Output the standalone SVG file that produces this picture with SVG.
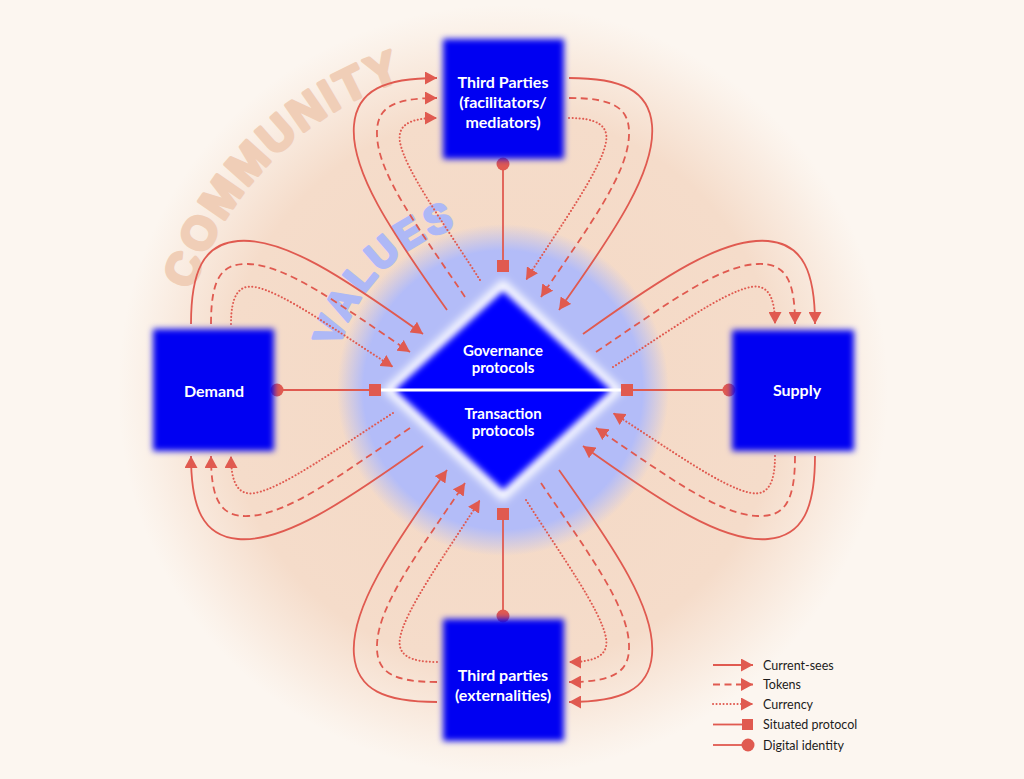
<svg xmlns="http://www.w3.org/2000/svg" width="1024" height="779" viewBox="0 0 1024 779">
<defs>
<style>
.c{fill:none;stroke:#E05A50;stroke-width:1.8}
.d{stroke-dasharray:7 4.5}
.o{stroke-dasharray:0.1 3.4;stroke-linecap:round;stroke-width:2}
.a{marker-end:url(#ah)}
.red{fill:#E05A50}
.box{fill:#0000F2;filter:url(#soft)}
.lbl{font-family:Lato,"Liberation Sans",sans-serif;font-weight:700;font-size:16px;fill:#ffffff;text-anchor:middle}
.dlbl{font-family:Lato,"Liberation Sans",sans-serif;font-weight:700;font-size:15px;fill:#ffffff;text-anchor:middle}
.leg{font-family:Lato,"Liberation Sans",sans-serif;font-size:12.5px;fill:#1c1c1c}
.arc{font-family:"Liberation Sans",Arial,sans-serif;font-weight:700;stroke-linejoin:round}
</style>
<radialGradient id="peach" gradientUnits="userSpaceOnUse" cx="503" cy="390" r="385">
<stop offset="0" stop-color="#F4D8C4"/>
<stop offset="0.72" stop-color="#F5DCCA"/>
<stop offset="0.95" stop-color="#FBF2EA"/>
<stop offset="1" stop-color="#FCF6F0"/>
</radialGradient>
<radialGradient id="halo" gradientUnits="userSpaceOnUse" cx="503" cy="390" r="166">
<stop offset="0" stop-color="#B3BCF8"/>
<stop offset="0.84" stop-color="#B3BCF8"/>
<stop offset="1" stop-color="#B3BCF8" stop-opacity="0"/>
</radialGradient>
<filter id="soft" x="-20%" y="-20%" width="140%" height="140%"><feGaussianBlur stdDeviation="3"/></filter>
<filter id="glow" x="-20%" y="-20%" width="140%" height="140%"><feGaussianBlur stdDeviation="4"/></filter>
<marker id="ah" viewBox="0 0 12 13" refX="12" refY="6.5" markerWidth="12" markerHeight="13" markerUnits="userSpaceOnUse" orient="auto"><path d="M0,0 L12,6.5 L0,13 z" fill="#E05A50"/></marker>
<path id="arcC" d="M 182 333 A 326 326 0 0 1 503 64"/>
<path id="arcV" d="M 334.6 375.3 A 169 169 0 0 1 517.7 221.6"/>
</defs>

<rect width="1024" height="779" fill="#FCF6F0"/>
<circle cx="503" cy="390" r="385" fill="url(#peach)"/>
<text class="arc" font-size="46" letter-spacing="3" fill="#F0CEB7" stroke="#F0CEB7" stroke-width="3.5"><textPath href="#arcC" startOffset="44">COMMUNITY</textPath></text>
<circle cx="503" cy="390" r="166" fill="url(#halo)"/>
<text class="arc" font-size="40" letter-spacing="3" fill="#AEB8F6" stroke="#AEB8F6" stroke-width="3"><textPath href="#arcV" startOffset="28">VALUES</textPath></text>

<g id="protocols">
<polygon points="503,279 623,390 503,502 383,390" fill="#ffffff" filter="url(#glow)"/>
<polygon points="503,291 611,390 503,490 395,390" fill="#0000FF" filter="url(#soft)"/>
<line x1="381" y1="390" x2="625" y2="390" stroke="#ffffff" stroke-width="3"/>
<text class="dlbl" x="503" y="356">Governance</text>
<text class="dlbl" x="503" y="373">protocols</text>
<text class="dlbl" x="503" y="419">Transaction</text>
<text class="dlbl" x="503" y="436">protocols</text>
</g>

<g id="connectors">
<g id="q-top">
<path class="c a" d="M447,310 C390,230 350,170 354,125 C357,90 385,78 437,78"/>
<path class="c d a" d="M465,297 C420,230 378,175 377,135 C376,108 392,98 437,98"/>
<path class="c o a" d="M480,280 C445,225 405,170 400,142 C397,125 410,118 437,118"/>
<path class="c a" d="M569,78 C621,78 649,90 652,125 C656,170 616,230 559,310"/>
<path class="c d a" d="M569,98 C614,98 630,108 629,135 C628,175 586,230 541,297"/>
<path class="c o a" d="M569,118 C596,118 609,125 606,142 C601,170 561,225 526,280"/>
<line class="c" x1="503" y1="164" x2="503" y2="266"/>
<circle class="red" cx="503" cy="164" r="6.5"/>
<rect class="red" x="497" y="260" width="12" height="12"/>
</g>
<g id="q-right" transform="rotate(90 503 390)">
<path class="c a" d="M447,310 C390,230 350,170 354,125 C357,90 385,78 437,78"/>
<path class="c d a" d="M465,297 C420,230 378,175 377,135 C376,108 392,98 437,98"/>
<path class="c o a" d="M480,280 C445,225 405,170 400,142 C397,125 410,118 437,118"/>
<path class="c a" d="M569,78 C621,78 649,90 652,125 C656,170 616,230 559,310"/>
<path class="c d a" d="M569,98 C614,98 630,108 629,135 C628,175 586,230 541,297"/>
<path class="c o a" d="M569,118 C596,118 609,125 606,142 C601,170 561,225 526,280"/>
<line class="c" x1="503" y1="164" x2="503" y2="266"/>
<circle class="red" cx="503" cy="164" r="6.5"/>
<rect class="red" x="497" y="260" width="12" height="12"/>
</g>
<g id="q-bottom" transform="rotate(180 503 390)">
<path class="c a" d="M447,310 C390,230 350,170 354,125 C357,90 385,78 437,78"/>
<path class="c d a" d="M465,297 C420,230 378,175 377,135 C376,108 392,98 437,98"/>
<path class="c o a" d="M480,280 C445,225 405,170 400,142 C397,125 410,118 437,118"/>
<path class="c a" d="M569,78 C621,78 649,90 652,125 C656,170 616,230 559,310"/>
<path class="c d a" d="M569,98 C614,98 630,108 629,135 C628,175 586,230 541,297"/>
<path class="c o a" d="M569,118 C596,118 609,125 606,142 C601,170 561,225 526,280"/>
<line class="c" x1="503" y1="164" x2="503" y2="266"/>
<circle class="red" cx="503" cy="164" r="6.5"/>
<rect class="red" x="497" y="260" width="12" height="12"/>
</g>
<g id="q-left" transform="rotate(270 503 390)">
<path class="c a" d="M447,310 C390,230 350,170 354,125 C357,90 385,78 437,78"/>
<path class="c d a" d="M465,297 C420,230 378,175 377,135 C376,108 392,98 437,98"/>
<path class="c o a" d="M480,280 C445,225 405,170 400,142 C397,125 410,118 437,118"/>
<path class="c a" d="M569,78 C621,78 649,90 652,125 C656,170 616,230 559,310"/>
<path class="c d a" d="M569,98 C614,98 630,108 629,135 C628,175 586,230 541,297"/>
<path class="c o a" d="M569,118 C596,118 609,125 606,142 C601,170 561,225 526,280"/>
<line class="c" x1="503" y1="164" x2="503" y2="262"/>
<circle class="red" cx="503" cy="164" r="6.5"/>
<rect class="red" x="497" y="256" width="12" height="12"/>
</g>
</g>

<g id="third-parties-facilitators">
<rect class="box" x="443" y="39" width="121" height="120"/>
<text class="lbl" x="503" y="88">Third Parties</text>
<text class="lbl" x="503" y="108">(facilitators/</text>
<text class="lbl" x="503" y="128">mediators)</text>
</g>
<g id="demand">
<rect class="box" x="153" y="329" width="121" height="122"/>
<text class="lbl" x="214" y="397">Demand</text>
</g>
<g id="supply">
<rect class="box" x="732" y="330" width="122" height="121"/>
<text class="lbl" x="797" y="396">Supply</text>
</g>
<g id="third-parties-externalities">
<rect class="box" x="443" y="619" width="121" height="122"/>
<text class="lbl" x="503" y="681">Third parties</text>
<text class="lbl" x="503" y="701">(externalities)</text>
</g>

<g id="legend">
<line class="c a" x1="713" y1="665" x2="753" y2="665"/>
<text class="leg" x="763" y="669.5">Current-sees</text>
<line class="c d a" x1="713" y1="684.5" x2="753" y2="684.5"/>
<text class="leg" x="763" y="689">Tokens</text>
<line class="c o a" x1="713" y1="704" x2="753" y2="704"/>
<text class="leg" x="763" y="708.5">Currency</text>
<line class="c" x1="713" y1="724.5" x2="744" y2="724.5"/>
<rect class="red" x="742" y="719" width="11" height="11"/>
<text class="leg" x="763" y="729">Situated protocol</text>
<line class="c" x1="713" y1="745" x2="744" y2="745"/>
<circle class="red" cx="748" cy="745" r="6.5"/>
<text class="leg" x="763" y="749.5">Digital identity</text>
</g>
</svg>
